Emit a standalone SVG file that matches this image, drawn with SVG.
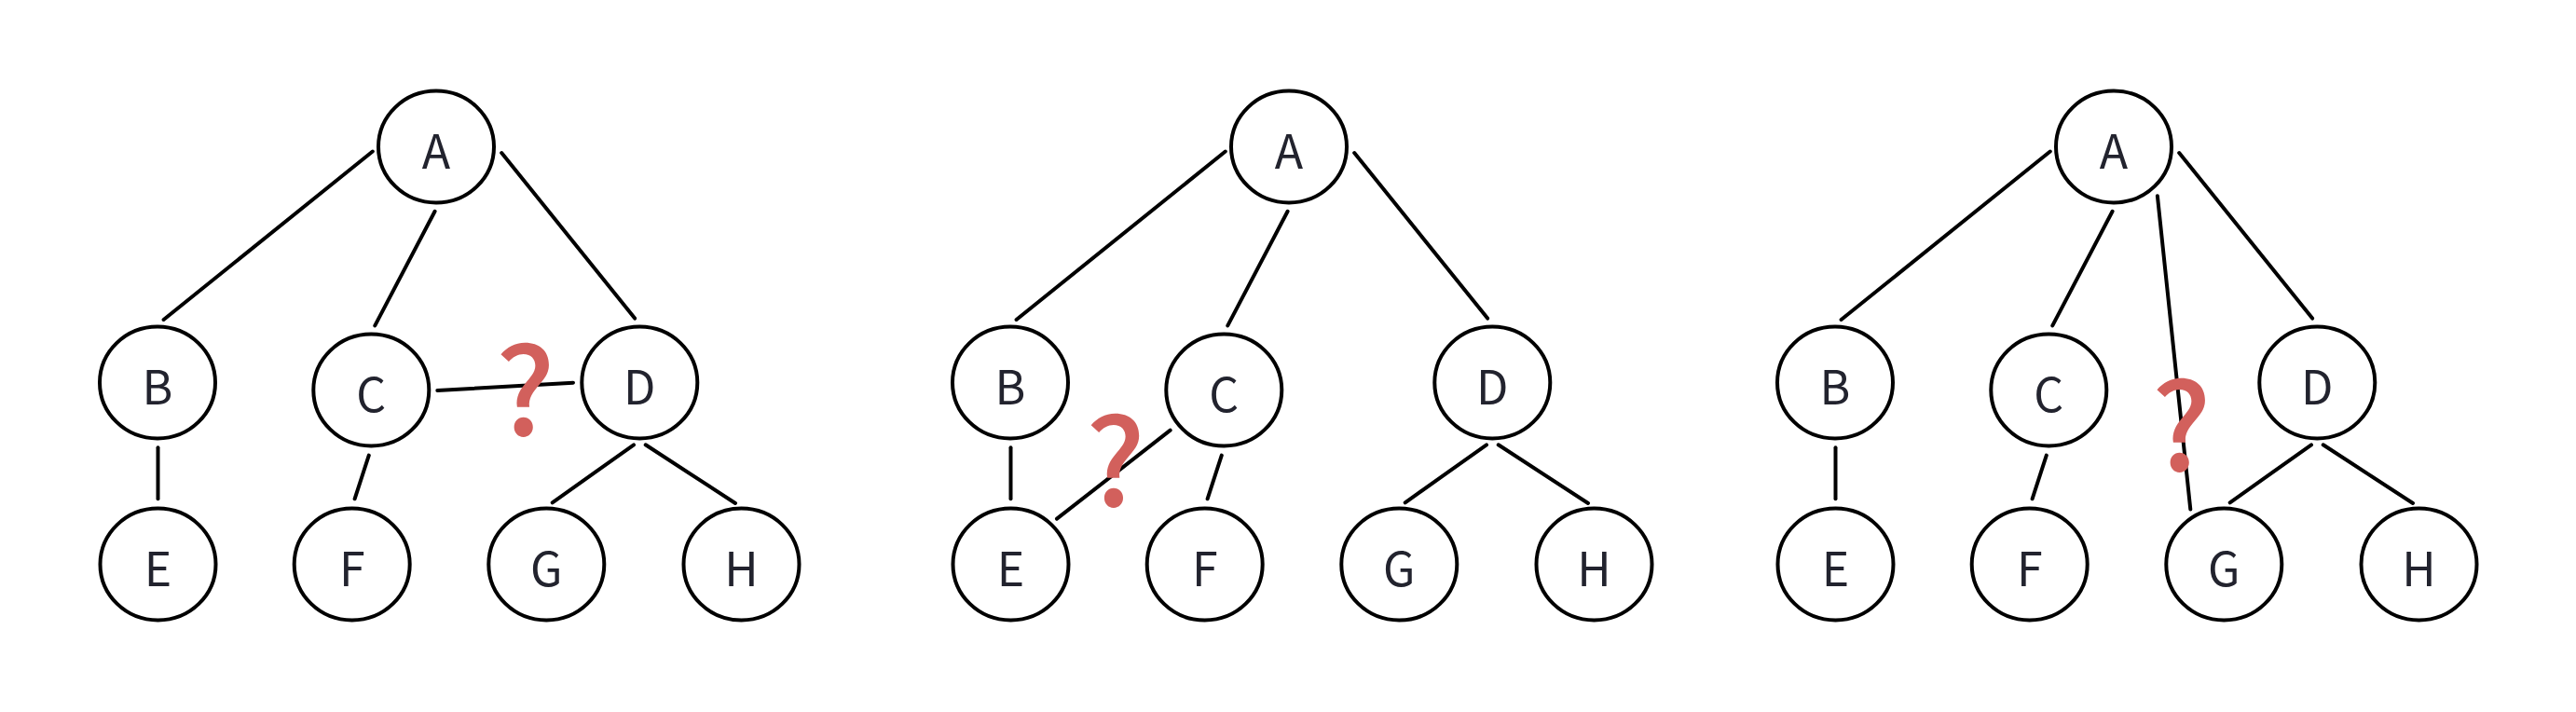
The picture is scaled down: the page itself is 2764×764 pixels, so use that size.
<svg xmlns="http://www.w3.org/2000/svg" width="2764" height="764" viewBox="0 0 2764 764">
  <style>
    .node ellipse { fill: #ffffff; stroke: #000000; stroke-width: 4; }
    .node text { font-family: "Noto Sans CJK SC", "Noto Sans", "Liberation Sans", sans-serif; font-size: 50px; fill: #22232e; text-anchor: middle; }
    .edges line { stroke: #000000; stroke-width: 4; stroke-linecap: round; }
    .q { font-family: "Noto Sans CJK SC", "Noto Sans", "Liberation Sans", sans-serif; font-size: 130px; font-weight: 500; fill: #d2605c; text-anchor: middle; }
  </style>
  <rect width="2764" height="764" fill="#ffffff"/>

  <!-- Panel 1 -->
  <g id="panel1">
    <g id="p1-connectors" class="edges">
      <line x1="399.8" y1="162.5" x2="175.6" y2="343"/>
      <line x1="466.6" y1="226.8" x2="402.3" y2="349.4"/>
      <line x1="538.2" y1="164" x2="681.1" y2="341.6"/>
      <line x1="169.5" y1="480.3" x2="169.5" y2="535.3"/>
      <line x1="395.8" y1="488.6" x2="380.6" y2="535.3"/>
      <line x1="680" y1="477.3" x2="592.7" y2="539.3"/>
      <line x1="692.7" y1="477.3" x2="789" y2="540"/>
      <line x1="469.3" y1="419" x2="615" y2="410.7"/>
    </g>
    <g id="p1-A" class="node"><ellipse cx="468" cy="157.5" rx="62" ry="60"/><text x="468" y="180.7">A</text></g>
    <g id="p1-B" class="node"><ellipse cx="169" cy="410.5" rx="62" ry="60"/><text x="169" y="433.5">B</text></g>
    <g id="p1-C" class="node"><ellipse cx="398.3" cy="418.5" rx="62" ry="60"/><text x="398.3" y="441.5">C</text></g>
    <g id="p1-D" class="node"><ellipse cx="686.3" cy="410.5" rx="62" ry="60"/><text x="686.3" y="433.5">D</text></g>
    <g id="p1-E" class="node"><ellipse cx="169.5" cy="605.5" rx="62" ry="60"/><text x="169.5" y="628.5">E</text></g>
    <g id="p1-F" class="node"><ellipse cx="377.7" cy="605.5" rx="62" ry="60"/><text x="377.7" y="628.5">F</text></g>
    <g id="p1-G" class="node"><ellipse cx="586.3" cy="605.5" rx="62" ry="60"/><text x="586.3" y="628.5">G</text></g>
    <g id="p1-H" class="node"><ellipse cx="795.5" cy="605.5" rx="62" ry="60"/><text x="795.5" y="628.5">H</text></g>
    <text id="p1-q" class="q" x="563.8" y="467">?</text>
  </g>

  <!-- Panel 2 -->
  <g id="panel2" transform="translate(915,0)">
    <g id="p2-connectors" class="edges">
      <line x1="399.8" y1="162.5" x2="175.6" y2="343"/>
      <line x1="466.6" y1="226.8" x2="402.3" y2="349.4"/>
      <line x1="538.2" y1="164" x2="681.1" y2="341.6"/>
      <line x1="169.5" y1="480.3" x2="169.5" y2="535.3"/>
      <line x1="395.8" y1="488.6" x2="380.6" y2="535.3"/>
      <line x1="680" y1="477.3" x2="592.7" y2="539.3"/>
      <line x1="692.7" y1="477.3" x2="789" y2="540"/>
      <line x1="340.7" y1="461.7" x2="219" y2="556.7"/>
    </g>
    <g id="p2-A" class="node"><ellipse cx="468" cy="157.5" rx="62" ry="60"/><text x="468" y="180.7">A</text></g>
    <g id="p2-B" class="node"><ellipse cx="169" cy="410.5" rx="62" ry="60"/><text x="169" y="433.5">B</text></g>
    <g id="p2-C" class="node"><ellipse cx="398.3" cy="418.5" rx="62" ry="60"/><text x="398.3" y="441.5">C</text></g>
    <g id="p2-D" class="node"><ellipse cx="686.3" cy="410.5" rx="62" ry="60"/><text x="686.3" y="433.5">D</text></g>
    <g id="p2-E" class="node"><ellipse cx="169.5" cy="605.5" rx="62" ry="60"/><text x="169.5" y="628.5">E</text></g>
    <g id="p2-F" class="node"><ellipse cx="377.7" cy="605.5" rx="62" ry="60"/><text x="377.7" y="628.5">F</text></g>
    <g id="p2-G" class="node"><ellipse cx="586.3" cy="605.5" rx="62" ry="60"/><text x="586.3" y="628.5">G</text></g>
    <g id="p2-H" class="node"><ellipse cx="795.5" cy="605.5" rx="62" ry="60"/><text x="795.5" y="628.5">H</text></g>
    <text id="p2-q" class="q" x="282" y="543.3">?</text>
  </g>

  <!-- Panel 3 -->
  <g id="panel3" transform="translate(1800,0)">
    <g id="p3-connectors" class="edges">
      <line x1="399.8" y1="162.5" x2="175.6" y2="343"/>
      <line x1="466.6" y1="226.8" x2="402.3" y2="349.4"/>
      <line x1="538.2" y1="164" x2="681.1" y2="341.6"/>
      <line x1="169.5" y1="480.3" x2="169.5" y2="535.3"/>
      <line x1="395.8" y1="488.6" x2="380.6" y2="535.3"/>
      <line x1="680" y1="477.3" x2="592.7" y2="539.3"/>
      <line x1="692.7" y1="477.3" x2="789" y2="540"/>
      <line x1="514.9" y1="210.2" x2="550.3" y2="546.5"/>
    </g>
    <g id="p3-A" class="node"><ellipse cx="468" cy="157.5" rx="62" ry="60"/><text x="468" y="180.7">A</text></g>
    <g id="p3-B" class="node"><ellipse cx="169" cy="410.5" rx="62" ry="60"/><text x="169" y="433.5">B</text></g>
    <g id="p3-C" class="node"><ellipse cx="398.3" cy="418.5" rx="62" ry="60"/><text x="398.3" y="441.5">C</text></g>
    <g id="p3-D" class="node"><ellipse cx="686.3" cy="410.5" rx="62" ry="60"/><text x="686.3" y="433.5">D</text></g>
    <g id="p3-E" class="node"><ellipse cx="169.5" cy="605.5" rx="62" ry="60"/><text x="169.5" y="628.5">E</text></g>
    <g id="p3-F" class="node"><ellipse cx="377.7" cy="605.5" rx="62" ry="60"/><text x="377.7" y="628.5">F</text></g>
    <g id="p3-G" class="node"><ellipse cx="586.3" cy="605.5" rx="62" ry="60"/><text x="586.3" y="628.5">G</text></g>
    <g id="p3-H" class="node"><ellipse cx="795.5" cy="605.5" rx="62" ry="60"/><text x="795.5" y="628.5">H</text></g>
    <text id="p3-q" class="q" x="540.7" y="505">?</text>
  </g>
</svg>
